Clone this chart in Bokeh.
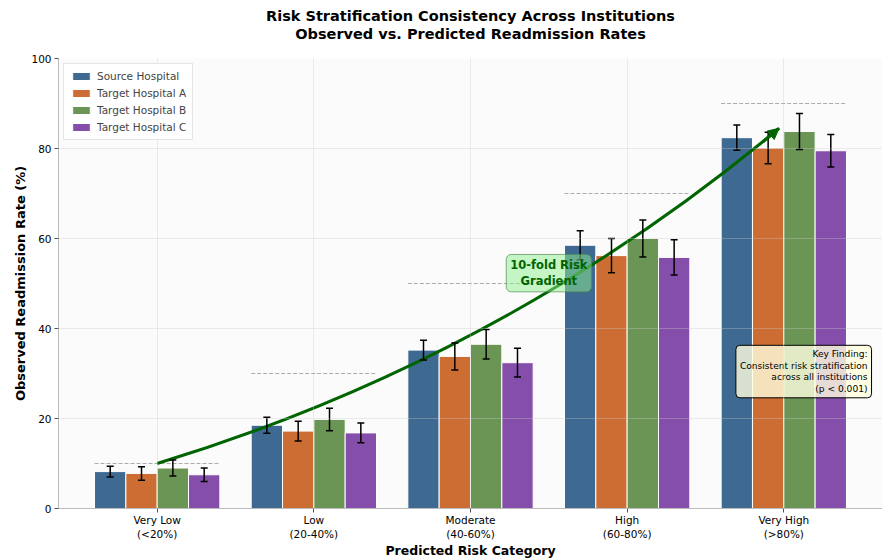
from bokeh.plotting import figure
from bokeh.models import (ColumnDataSource, Whisker, TeeHead, Label, Arrow, NormalHead,
                          Range1d, FixedTicker, Title, Legend, LegendItem)
from bokeh.embed import file_html
from bokeh.resources import INLINE

categories = ["Very Low\n(<20%)", "Low\n(20-40%)", "Moderate\n(40-60%)", "High\n(60-80%)", "Very High\n(>80%)"]
hospitals = ["Source Hospital", "Target Hospital A", "Target Hospital B", "Target Hospital C"]
source_rates = [8.2, 18.5, 35.2, 58.5, 82.4]
target_a_rates = [7.8, 17.2, 33.8, 56.2, 80.1]
target_b_rates = [9.0, 19.8, 36.5, 60.0, 83.8]
target_c_rates = [7.5, 16.8, 32.4, 55.8, 79.5]
source_err = [1.2, 1.8, 2.2, 3.2, 2.8]
target_a_err = [1.5, 2.2, 3.0, 3.8, 3.5]
target_b_err = [1.8, 2.5, 3.3, 4.1, 4.0]
target_c_err = [1.5, 2.2, 3.2, 3.9, 3.6]
expected_rates = [10, 30, 50, 70, 90]
gradient_start = (0, 10)
gradient_end = (3.97, 84.5)

colors = ["#3e6990", "#cc6e34", "#6a9555", "#844eaa"]
all_rates = [source_rates, target_a_rates, target_b_rates, target_c_rates]
all_errs = [source_err, target_a_err, target_b_err, target_c_err]
offsets = [-0.3, -0.1, 0.1, 0.3]
bar_w = 0.2

FONT = "DejaVu Sans"

p = figure(width=882, height=560, x_range=Range1d(-0.63, 4.63), y_range=Range1d(0, 100),
           output_backend="svg", toolbar_location=None,
           min_border_left=58, min_border_right=0, min_border_top=58, min_border_bottom=52)
p.background_fill_color = "#fbfbfb"
p.border_fill_color = "white"
p.outline_line_color = None

# Title: default (outermost) title left empty; spacer nearest the frame, then the two lines
p.title.text = ""
p.title.standoff = 0
p.add_layout(Title(text=" ", text_font_size="1px", standoff=13), "above")
p.add_layout(Title(text="Observed vs. Predicted Readmission Rates", align="center",
                   text_font=FONT, text_font_size="14.5px", text_font_style="bold",
                   text_color="black", standoff=1), "above")
p.add_layout(Title(text="Risk Stratification Consistency Across Institutions", align="center",
                   text_font=FONT, text_font_size="14.5px", text_font_style="bold",
                   text_color="black", standoff=0), "above")

n = len(categories)
xs = list(range(n))
items = []
for k in range(4):
    xk = [x + offsets[k] for x in xs]
    src = ColumnDataSource(dict(x=xk, top=all_rates[k],
                                upper=[r + e for r, e in zip(all_rates[k], all_errs[k])],
                                lower=[r - e for r, e in zip(all_rates[k], all_errs[k])]))
    r = p.vbar(x="x", top="top", width=bar_w, bottom=0, source=src,
               fill_color=colors[k], line_color="white", line_width=1)
    items.append(LegendItem(label=hospitals[k], renderers=[r]))
    w = Whisker(source=src, base="x", upper="upper", lower="lower",
                line_color="black", line_width=1.5, level="annotation",
                upper_head=TeeHead(size=7, line_color="black", line_width=1.5),
                lower_head=TeeHead(size=7, line_color="black", line_width=1.5))
    p.add_layout(w)

# expected reference dashed lines
p.segment(x0=[x - 0.4 for x in xs], x1=[x + 0.4 for x in xs], y0=expected_rates, y1=expected_rates,
          line_color="#999999", line_dash="4 2", line_width=1, line_alpha=0.8)

# curved gradient arrow (arc3-like quadratic)
x0, y0 = gradient_start
x1, y1 = gradient_end
cx, cy = 2.21, 33.4
p.quadratic(x0=[x0], y0=[y0], x1=[x1], y1=[y1], cx=[cx], cy=[cy],
            line_color="#006400", line_width=3)
ax_s = x1 - 0.06 * (x1 - cx)
ay_s = y1 - 0.06 * (y1 - cy)
p.add_layout(Arrow(end=NormalHead(size=11, fill_color="#006400", line_color="#006400"),
                   x_start=ax_s, y_start=ay_s, x_end=x1, y_end=y1,
                   line_color="#006400", line_width=3))

p.add_layout(Label(x=2.5, y=52.3, text="10-fold Risk\nGradient", text_align="center",
                   text_baseline="middle", text_font=FONT, text_font_size="11.5px",
                   text_font_style="bold", text_color="#006400", text_line_height=1.1,
                   background_fill_color="#90ee90", background_fill_alpha=0.5,
                   border_line_color="#4f8f4f", border_line_alpha=0.7, border_line_width=1,
                   padding=4, border_radius=5))

p.add_layout(Label(x=4.56, y=24.6, text="Key Finding:\nConsistent risk stratification\nacross all institutions\n(p < 0.001)",
                   text_align="right", text_baseline="bottom", text_font=FONT,
                   text_font_size="9.1px", text_color="black", text_line_height=1.15,
                   background_fill_color="#ffffe0", background_fill_alpha=0.8,
                   border_line_color="black", border_line_width=1,
                   padding=4, border_radius=4))

# axes
p.xaxis.ticker = FixedTicker(ticks=xs)
p.xaxis.major_label_overrides = {i: c for i, c in enumerate(categories)}
p.yaxis.ticker = FixedTicker(ticks=[0, 20, 40, 60, 80, 100])
for ax in (p.xaxis, p.yaxis):
    ax.axis_line_color = "#bbbbbb"
    ax.major_tick_line_color = "#555555"
    ax.major_tick_out = 4
    ax.major_tick_in = 0
    ax.minor_tick_line_color = None
    ax.major_label_text_font = FONT
    ax.major_label_text_font_size = "10.5px"
    ax.major_label_text_color = "black"
    ax.axis_label_text_font = FONT
    ax.axis_label_text_font_style = "bold"
    ax.axis_label_text_color = "black"
p.xaxis.axis_label_text_font_size = "12.5px"
p.yaxis.axis_label_text_font_size = "13px"
p.xaxis.axis_label = "Predicted Risk Category"
p.yaxis.axis_label = "Observed Readmission Rate (%)"
p.xaxis.major_label_standoff = 1
p.xaxis.axis_label_standoff = 0
p.yaxis.major_label_standoff = 3
p.yaxis.axis_label_standoff = 0

p.xgrid.ticker = FixedTicker(ticks=xs)
for g in (p.xgrid, p.ygrid):
    g.grid_line_color = "#cccccc"
    g.grid_line_alpha = 0.35
    g.level = "overlay"

legend = Legend(items=items, location="top_left")
legend.label_text_font = FONT
legend.label_text_font_size = "10.5px"
legend.glyph_width = 22
legend.glyph_height = 10
legend.label_height = 12
legend.spacing = 5
legend.padding = 6
legend.margin = 5
legend.border_line_color = "#cccccc"
legend.background_fill_alpha = 0.85
p.add_layout(legend)

open("out.html", "w").write(file_html(p, INLINE))
